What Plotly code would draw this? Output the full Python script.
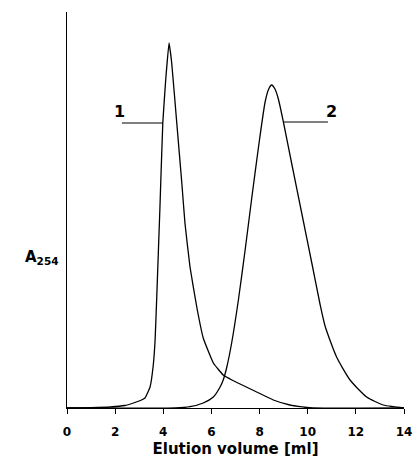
import plotly.graph_objects as go

# Elution volume (ml) and absorbance (arbitrary units) for peak 1
vol_1 = [0.0, 1.0, 1.8, 2.4, 2.76, 3.05, 3.24, 3.45, 3.58, 3.66, 3.73, 3.86, 3.98, 4.1,
         4.24, 4.35, 4.56, 4.77, 4.90, 5.11, 5.39, 5.66, 6.08, 6.49, 6.85, 7.19, 7.88,
         8.57, 9.26, 9.68, 10.2, 14.0]
abs_1 = [0.0, 0.3, 1.0, 2.5, 5.0, 7.5, 10.0, 21.0, 42.0, 68.0, 112.0, 200.0, 285.0, 328.0,
         365.0, 345.0, 285.0, 225.0, 185.0, 141.0, 101.0, 70.0, 45.0, 33.0, 28.0, 24.0, 16.0,
         8.0, 3.0, 1.3, 0.0, 0.0]

# Elution volume (ml) and absorbance (arbitrary units) for peak 2
vol_2 = [0.0, 4.5, 5.11, 5.66, 6.08, 6.36, 6.49, 6.63, 6.84, 7.12, 7.40, 7.67, 7.95, 8.23,
         8.38, 8.50, 8.64, 8.78, 8.99, 9.33, 9.75, 10.17, 10.51, 10.72, 11.2, 11.76, 12.45,
         13.14, 13.56, 14.0]
abs_2 = [0.0, 0.0, 1.3, 5.0, 11.0, 21.0, 28.0, 40.0, 65.0, 108.0, 158.0, 209.0, 260.0, 306.0,
         319.0, 323.0, 319.0, 309.0, 286.0, 245.0, 195.0, 145.0, 104.0, 82.0, 51.0, 28.0, 11.0,
         3.0, 1.3, 0.0]

x_ticks = [0, 2, 4, 6, 8, 10, 12, 14]

# Peak labels with their leader lines: (label, text x, text y, line x0, line x1, line y)
peak_labels = [("1", 2.2, 297, 2.28, 3.98, 285), ("2", 10.97, 297, 8.99, 10.84, 286)]

# Spline smoothing per curve
smooth = [0.35, 0.6]

FONT = "DejaVu Sans, Arial, sans-serif"

fig = go.Figure()
for (vx, vy), sm in zip(((vol_1, abs_1), (vol_2, abs_2)), smooth):
    fig.add_trace(go.Scatter(
        x=vx, y=vy, mode="lines",
        line=dict(color="black", width=1.3, shape="spline", smoothing=sm),
        showlegend=False, hoverinfo="skip",
    ))

for label, tx, ty, lx0, lx1, ly in peak_labels:
    fig.add_trace(go.Scatter(
        x=[lx0, lx1], y=[ly, ly], mode="lines",
        line=dict(color="black", width=1.2), showlegend=False, hoverinfo="skip",
    ))
    fig.add_annotation(
        x=tx, y=ty, text="<b>%s</b>" % label, showarrow=False,
        xanchor="center", yanchor="middle",
        font=dict(family=FONT, size=16, color="black"),
    )

fig.add_annotation(
    xref="paper", yref="paper", x=-0.074, y=0.379,
    text="<b>A<sub>254</sub></b>", showarrow=False, xanchor="center", yanchor="middle",
    font=dict(family=FONT, size=15, color="black"),
)

fig.update_layout(
    width=413, height=459,
    margin=dict(l=67, r=9, t=12, b=51, autoexpand=False),
    paper_bgcolor="white", plot_bgcolor="white",
    font=dict(family=FONT, color="black"),
    xaxis=dict(
        range=[0, 14], tickvals=x_ticks, ticktext=["<b>%d</b>" % t for t in x_ticks],
        ticks="outside", ticklen=5, tickwidth=1, tickcolor="black",
        ticklabelstandoff=8, automargin=False,
        showline=True, linecolor="black", linewidth=1, showgrid=False, zeroline=False,
        tickfont=dict(size=12),
        title=dict(text="<b>Elution volume [ml]</b>", font=dict(size=15), standoff=5),
    ),
    yaxis=dict(
        range=[0, 396], showticklabels=False, ticks="", automargin=False,
        showline=True, linecolor="black", linewidth=1, showgrid=False, zeroline=False,
    ),
)

fig.write_html("out.html")
